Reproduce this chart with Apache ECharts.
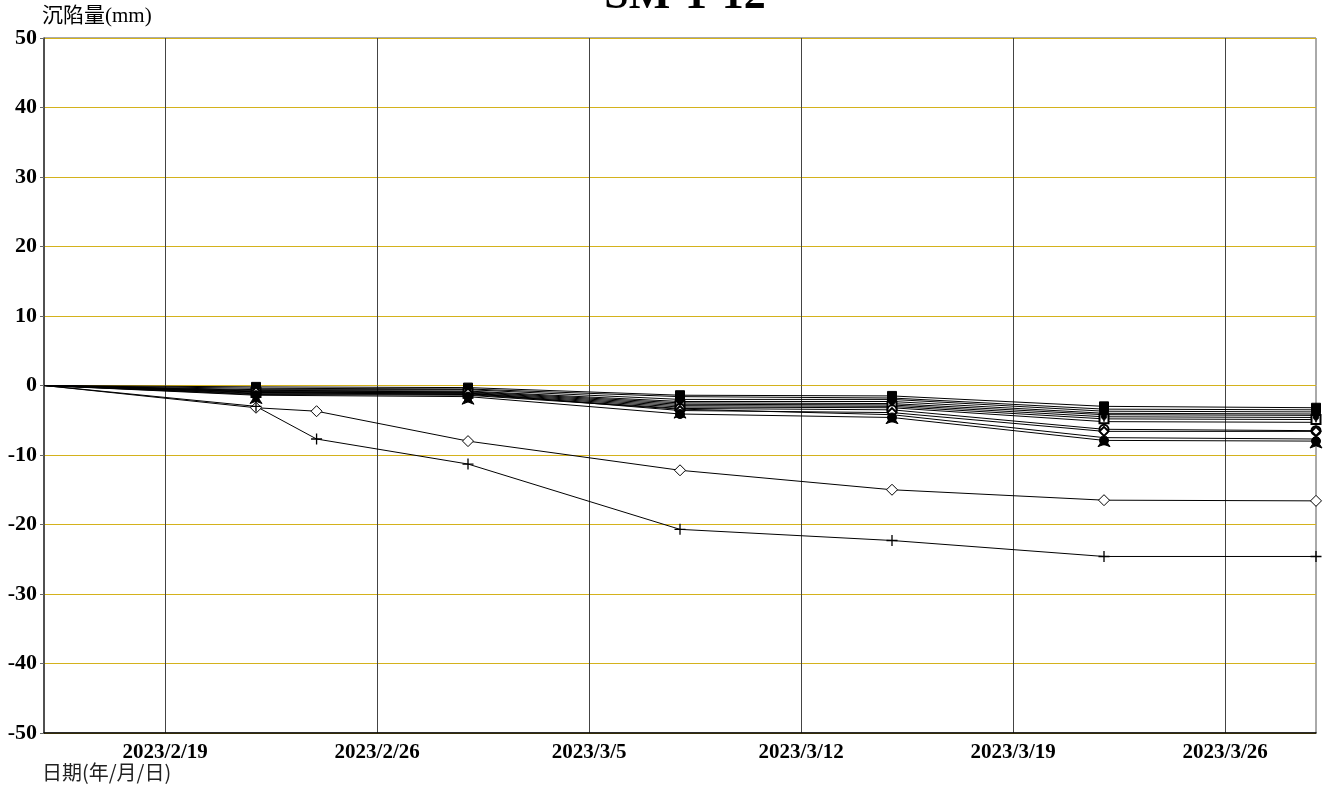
<!DOCTYPE html>
<html>
<head>
<meta charset="utf-8">
<script src="https://cdn.jsdelivr.net/npm/echarts@6/dist/echarts.min.js"></script>
<style>
  html, body { margin: 0; padding: 0; background: #fff; }
  #chart { width: 1324px; height: 794px; }
</style>
</head>
<body>
<div id="chart"></div>
<script>
// 测点日期
const dates = ['2023/2/15', '2023/2/22', '2023/3/1', '2023/3/8', '2023/3/15', '2023/3/22', '2023/3/29']
const datesLong = ['2023/2/15', '2023/2/22', '2023/2/24', '2023/3/1', '2023/3/8', '2023/3/15', '2023/3/22', '2023/3/29']
const tickDates = ['2023/2/19', '2023/2/26', '2023/3/5', '2023/3/12', '2023/3/19', '2023/3/26']

// 各测点沉陷量 (mm)
const clusterNames = ['P1', 'P2', 'P3', 'P4', 'P5', 'P6', 'P7', 'P8', 'P9', 'P10', 'P11', 'P12']
const clusterValues = [
  [0, -0.2, -0.3, -1.4, -1.5, -3.0, -3.2],
  [0, -0.4, -0.5, -1.6, -1.8, -3.4, -3.5],
  [0, -0.6, -0.6, -2.0, -2.0, -3.7, -3.8],
  [0, -0.7, -0.8, -2.3, -2.3, -4.0, -4.1],
  [0, -0.8, -0.9, -2.5, -2.6, -4.2, -4.3],
  [0, -0.9, -1.0, -2.7, -2.8, -4.5, -4.6],
  [0, -1.0, -1.1, -2.9, -3.0, -4.8, -4.9],
  [0, -1.1, -1.2, -3.1, -3.2, -5.2, -5.3],
  [0, -1.2, -1.3, -3.3, -3.5, -6.3, -6.5],
  [0, -1.3, -1.4, -3.4, -4.2, -7.5, -7.7],
  [0, -0.9, -1.1, -3.6, -3.9, -6.6, -6.6],
  [0, -1.4, -1.6, -4.1, -4.6, -7.9, -8.0],
]
const clusterSymbols = ['rect', 'triangle', 'circle', 'triangle', 'diamond', 'roundRect',
  'emptyRect', 'pin', 'emptyCircle', 'arrow', 'emptyDiamond', 'circle']

const diamondValues = [0, -3.2, -3.7, -8.0, -12.2, -15.0, -16.5, -16.6]
const plusValues = [0, -3.0, -7.7, -11.3, -20.7, -22.3, -24.6, -24.6]

const yTicks = [-50, -40, -30, -20, -10, 0, 10, 20, 30, 40, 50]

const DAY = 86400000
const ORIGIN = Date.UTC(2023, 1, 19)
function dayNum(s) {
  const [y, m, d] = s.split('/').map(Number)
  return (Date.UTC(y, m - 1, d) - ORIGIN) / DAY
}
function dayLabel(v) {
  const dt = new Date(ORIGIN + v * DAY)
  return `${dt.getUTCFullYear()}/${dt.getUTCMonth() + 1}/${dt.getUTCDate()}`
}
// 起点不画标记
function toPoints(ds, vals) {
  return vals.map((v, j) => j === 0
    ? { value: [dayNum(ds[j]), v], symbol: 'none' }
    : [dayNum(ds[j]), v])
}

const serif = '"Liberation Serif", "Noto Sans CJK SC", serif'
const tickVals = tickDates.map(dayNum)
const plusPath = 'path://M0,4.4h10v1.2h-10z M4.4,0h1.2v10h-1.2z'

const series = clusterValues.map((vals, i) => ({
  name: clusterNames[i],
  type: 'line',
  data: toPoints(dates, vals),
  symbol: clusterSymbols[i],
  symbolSize: 9,
  showAllSymbol: true,
  lineStyle: { color: '#000', width: 1 },
  itemStyle: { color: '#000', borderColor: '#000' },
  silent: true,
  z: 3,
}))

series.push({
  name: 'D',
  type: 'line',
  data: toPoints(datesLong, diamondValues),
  symbol: 'diamond',
  symbolSize: 11,
  lineStyle: { color: '#000', width: 1 },
  itemStyle: { color: '#fff', borderColor: '#000', borderWidth: 1 },
  z: 4,
})
series.push({
  name: 'P',
  type: 'line',
  data: toPoints(datesLong, plusValues),
  symbol: plusPath,
  symbolSize: 11,
  lineStyle: { color: '#000', width: 1 },
  itemStyle: { color: '#000' },
  z: 4,
})

const chart = echarts.init(document.getElementById('chart'))
chart.setOption({
  animation: false,
  backgroundColor: '#fff',
  title: {
    text: 'SM-1-12',
    left: 680,
    textAlign: 'center',
    top: -30,
    textStyle: { fontFamily: serif, fontWeight: 'bold', fontSize: 44, color: '#000' },
  },
  grid: { left: 44, right: 8, top: 38, bottom: 61, show: true, borderColor: '#555', borderWidth: 1 },
  xAxis: {
    type: 'value',
    min: dayNum(dates[0]),
    max: dayNum(dates[dates.length - 1]),
    axisLine: { onZero: false, lineStyle: { color: '#000', width: 1.5 } },
    axisTick: { show: false, customValues: tickVals },
    axisLabel: {
      customValues: tickVals,
      formatter: (v) => dayLabel(v),
      fontFamily: serif, fontWeight: 'bold', fontSize: 21, color: '#000', margin: 9,
    },
    splitLine: { show: true, customValues: tickVals, lineStyle: { color: '#444', width: 1 } },
  },
  yAxis: {
    type: 'value',
    min: yTicks[0],
    max: yTicks[yTicks.length - 1],
    interval: 10,
    name: '沉陷量(mm)',
    nameLocation: 'end',
    nameGap: 16,
    nameTextStyle: { fontFamily: serif, fontSize: 21, color: '#000', align: 'left', verticalAlign: 'middle', padding: [0, 0, 0, -2] },
    axisLine: { onZero: false, lineStyle: { color: '#333', width: 1.5 } },
    axisTick: { show: true, length: 4, lineStyle: { color: '#666' } },
    axisLabel: { fontFamily: serif, fontWeight: 'bold', fontSize: 22, color: '#000', margin: 7 },
    splitLine: { show: true, lineStyle: { color: '#d4b21c', width: 1 } },
  },
  graphic: [{
    type: 'text',
    left: 42,
    top: 762,
    style: { text: '日期(年/月/日)', fontFamily: '"Noto Sans CJK SC", sans-serif', fontSize: 20, fill: '#222' },
  }],
  series,
})
</script>
</body>
</html>
